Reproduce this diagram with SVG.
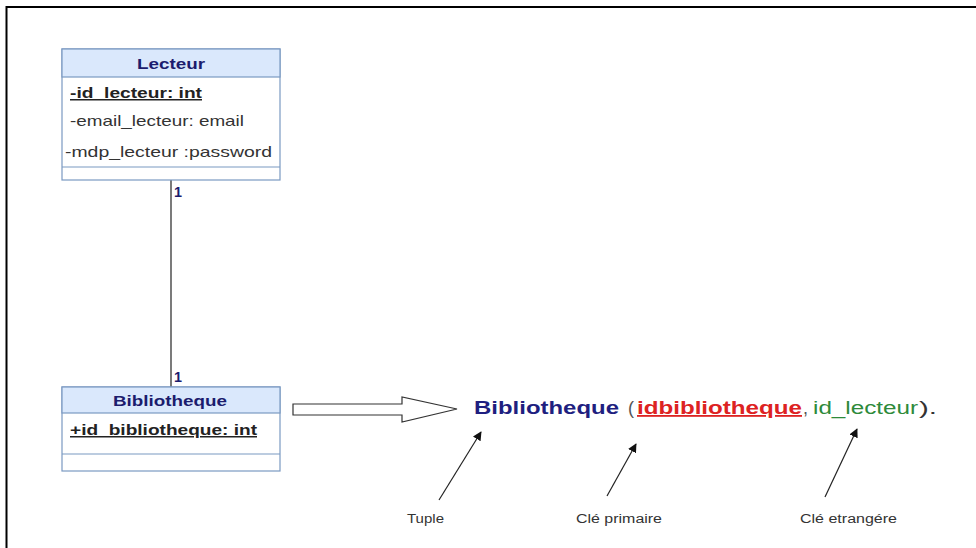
<svg xmlns="http://www.w3.org/2000/svg" width="976" height="548" viewBox="0 0 976 548">
  <style>
    .box { fill: #ffffff; stroke: #7b99c2; stroke-width: 1.2; }
    .head { fill: #dae8fc; stroke: #7b99c2; stroke-width: 1.2; }
    .sep { stroke: #7b99c2; stroke-width: 1.2; }
    .t { font-family: "Liberation Sans", Arial, sans-serif; }
    .title { font-size: 15px; font-weight: bold; fill: #1c1c6e; }
    .attr { font-size: 15px; fill: #333333; }
    .key { font-weight: bold; text-decoration: underline; fill: #222222; }
    .mult { font-size: 14px; font-weight: bold; fill: #1c1c6e; }
    .rel { font-size: 18px; }
    .note { font-size: 12.5px; fill: #333333; }
    .wire { stroke: #333333; stroke-width: 1.3; fill: none; }
    .ptr { stroke: #222222; stroke-width: 1.2; fill: none; marker-end: url(#tip); }
  </style>
  <defs>
    <marker id="tip" viewBox="0 0 10 10" refX="9" refY="5" markerWidth="9" markerHeight="9" markerUnits="userSpaceOnUse" orient="auto">
      <path d="M0,0 L10,5 L0,10 z" fill="#111111"/>
    </marker>
  </defs>

  <rect width="976" height="548" fill="#ffffff"/>
  <!-- frame -->
  <path d="M6.5,548 V7 H976" fill="none" stroke="#000000" stroke-width="2"/>

  <!-- association -->
  <g id="connectors">
    <line class="wire" x1="171" y1="180" x2="171" y2="387"/>
    <text class="t mult" x="174" y="197" textLength="8" lengthAdjust="spacingAndGlyphs">1</text>
    <text class="t mult" x="174" y="382" textLength="8" lengthAdjust="spacingAndGlyphs">1</text>
    <!-- hollow transformation arrow -->
    <path d="M293,404 H402 V397 L457,409 L402,422 V415 H293 Z" fill="#ffffff" stroke="#333333" stroke-width="1.2"/>
    <!-- annotation pointers -->
    <line class="ptr" x1="439" y1="500" x2="481" y2="432"/>
    <line class="ptr" x1="607" y1="496" x2="636" y2="444"/>
    <line class="ptr" x1="825" y1="497" x2="857" y2="429"/>
  </g>

  <g id="lecteur">
    <rect class="box" x="62" y="49" width="218" height="131"/>
    <rect class="head" x="62" y="49" width="218" height="28"/>
    <line class="sep" x1="62" y1="167" x2="280" y2="167"/>
    <text class="t title" x="137" y="69" textLength="68" lengthAdjust="spacingAndGlyphs">Lecteur</text>
    <text class="t attr key" x="70" y="98" textLength="132" lengthAdjust="spacingAndGlyphs">-id_lecteur: int</text>
    <text class="t attr" x="70" y="126" textLength="174" lengthAdjust="spacingAndGlyphs">-email_lecteur: email</text>
    <text class="t attr" x="65" y="157" textLength="207" lengthAdjust="spacingAndGlyphs">-mdp_lecteur :password</text>
  </g>

  <g id="bibliotheque">
    <rect class="box" x="62" y="387" width="218" height="84"/>
    <rect class="head" x="62" y="387" width="218" height="26"/>
    <line class="sep" x1="62" y1="454" x2="280" y2="454"/>
    <text class="t title" x="113" y="406" textLength="114" lengthAdjust="spacingAndGlyphs">Bibliotheque</text>
    <text class="t attr key" x="70" y="435" textLength="187" lengthAdjust="spacingAndGlyphs">+id_bibliotheque: int</text>
  </g>

  <g id="relation">
    <text class="t rel" x="474" y="414" font-weight="bold" fill="#1f1f80" textLength="145" lengthAdjust="spacingAndGlyphs">Bibliotheque</text>
    <text class="t rel" x="628" y="414" fill="#555555">(</text>
    <text class="t rel" x="637" y="414" font-weight="bold" fill="#dd2222" text-decoration="underline" textLength="165" lengthAdjust="spacingAndGlyphs">idbibliotheque</text>
    <text class="t rel" x="803" y="414" fill="#555555">,</text>
    <text class="t rel" x="813" y="414" fill="#2e8a3a" textLength="105" lengthAdjust="spacingAndGlyphs">id_lecteur</text>
    <text class="t rel" x="919" y="414" fill="#333333" textLength="18" lengthAdjust="spacingAndGlyphs">).</text>
  </g>

  <g id="labels">
    <text class="t note" x="407" y="523" textLength="37" lengthAdjust="spacingAndGlyphs">Tuple</text>
    <text class="t note" x="576" y="523" textLength="86" lengthAdjust="spacingAndGlyphs">Clé primaire</text>
    <text class="t note" x="800" y="523" textLength="97" lengthAdjust="spacingAndGlyphs">Clé etrangére</text>
  </g>
</svg>
